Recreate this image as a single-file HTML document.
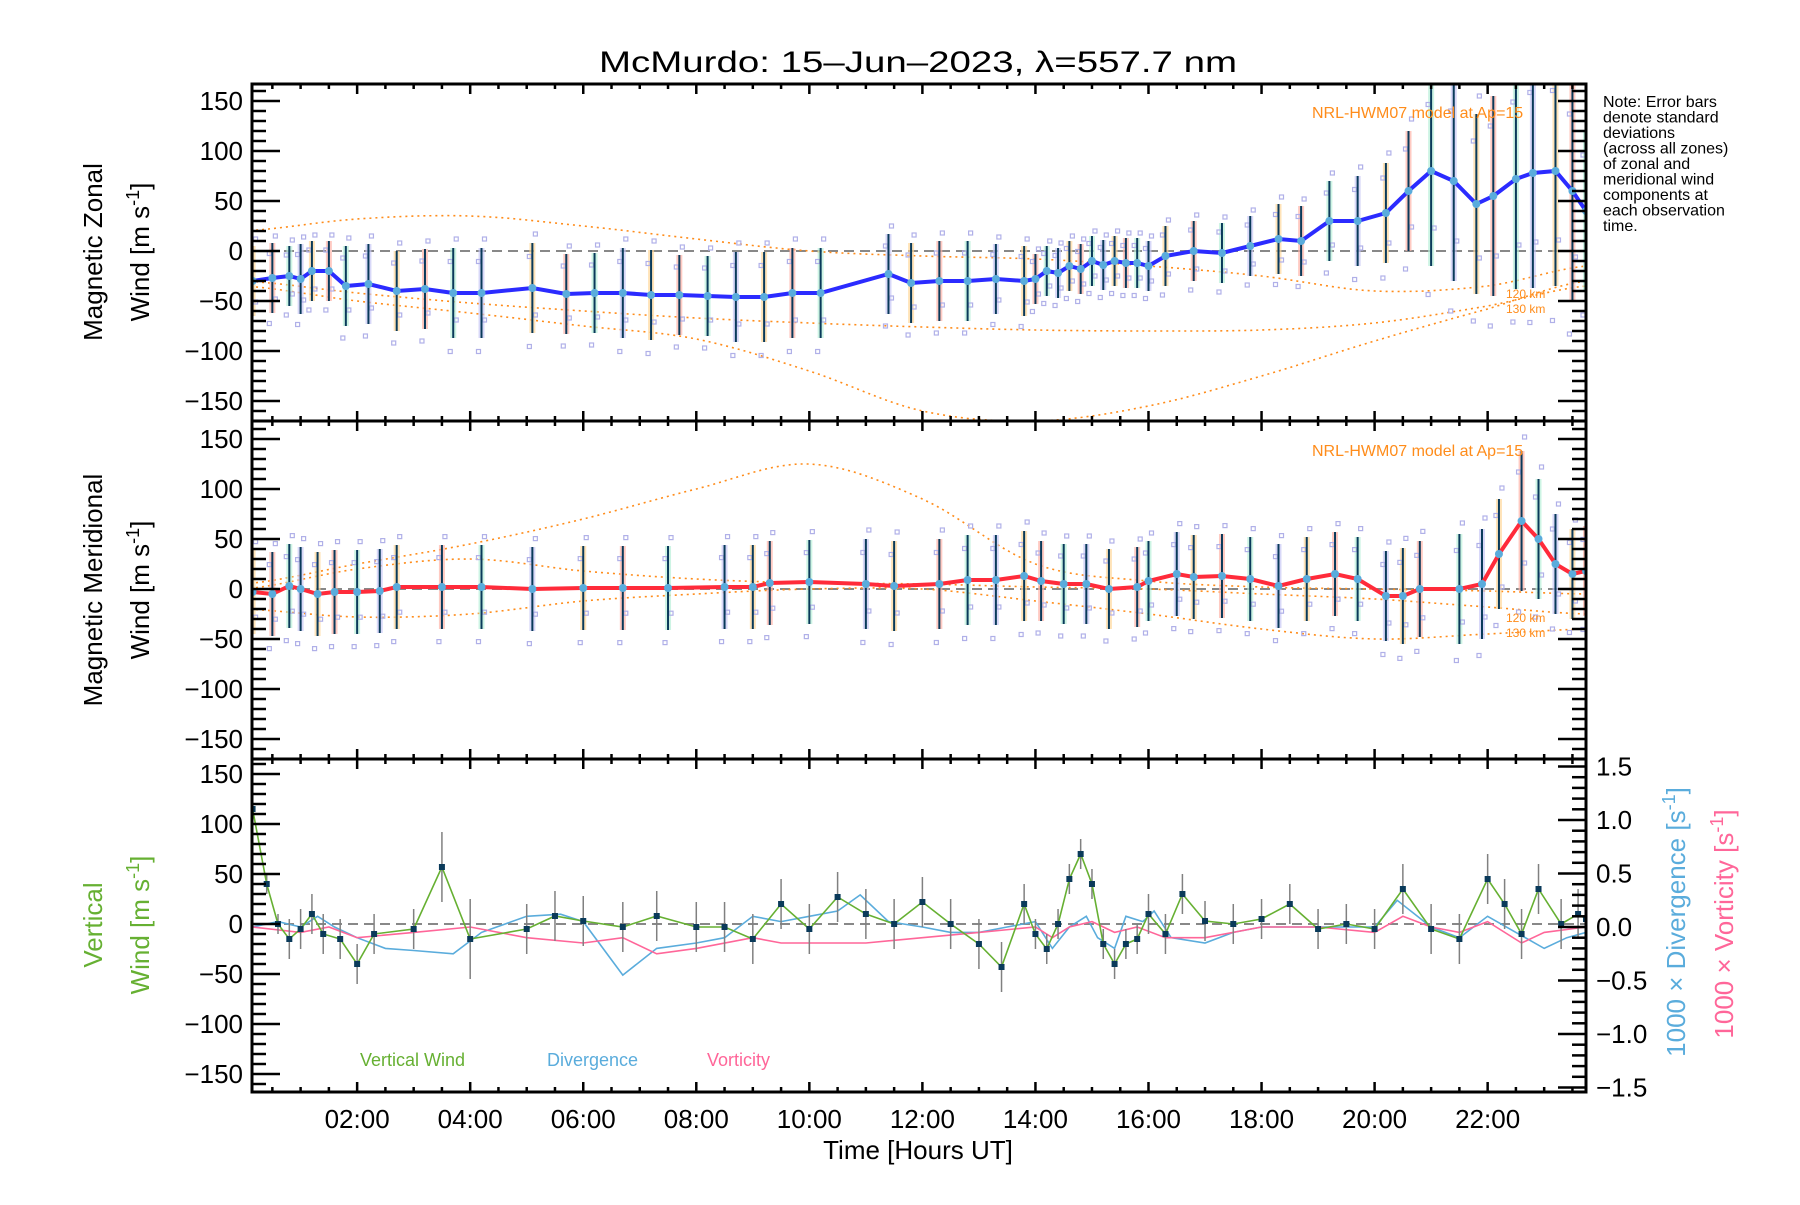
<!DOCTYPE html>
<html><head><meta charset="utf-8"><style>
html,body{margin:0;padding:0;background:#fff;}
svg text{font-family:"Liberation Sans","DejaVu Sans",sans-serif;}
</style></head><body>
<svg id="chart" width="1800" height="1200" viewBox="0 0 1800 1200" xmlns="http://www.w3.org/2000/svg">
<rect width="1800" height="1200" fill="#fff"/>
<text x="599" y="72" font-size="30" textLength="638" lengthAdjust="spacingAndGlyphs">McMurdo: 15–Jun–2023, λ=557.7 nm</text>
<g id="layer"></g>
<g font-size="16">
<text x="1603" y="107">Note: Error bars</text>
<text x="1603" y="122.5">denote standard</text>
<text x="1603" y="138">deviations</text>
<text x="1603" y="153.5">(across all zones)</text>
<text x="1603" y="169">of zonal and</text>
<text x="1603" y="184.5">meridional wind</text>
<text x="1603" y="200">components at</text>
<text x="1603" y="215.5">each observation</text>
<text x="1603" y="231">time.</text>
</g>
<text transform="translate(102,252) rotate(-90)" text-anchor="middle" font-size="26">Magnetic Zonal</text>
<text transform="translate(149,252) rotate(-90)" text-anchor="middle" font-size="26">Wind [m s<tspan dy="-10" font-size="18">-1</tspan><tspan dy="10">]</tspan></text>
<text transform="translate(102,590) rotate(-90)" text-anchor="middle" font-size="26">Magnetic Meridional</text>
<text transform="translate(149,590) rotate(-90)" text-anchor="middle" font-size="26">Wind [m s<tspan dy="-10" font-size="18">-1</tspan><tspan dy="10">]</tspan></text>
<text transform="translate(102,925) rotate(-90)" text-anchor="middle" font-size="26" fill="#66b032">Vertical</text>
<text transform="translate(149,925) rotate(-90)" text-anchor="middle" font-size="26" fill="#66b032">Wind [m s<tspan dy="-10" font-size="18">-1</tspan><tspan dy="10">]</tspan></text>
<text transform="translate(1685,922) rotate(-90)" text-anchor="middle" font-size="26" fill="#5aacdc">1000 × Divergence [s<tspan dy="-10" font-size="18">-1</tspan><tspan dy="10">]</tspan></text>
<text transform="translate(1733,924) rotate(-90)" text-anchor="middle" font-size="26" fill="#ff6699">1000 × Vorticity [s<tspan dy="-10" font-size="18">-1</tspan><tspan dy="10">]</tspan></text>
<text x="918" y="1159" text-anchor="middle" font-size="26">Time [Hours UT]</text>
<text x="360" y="1066" font-size="18" fill="#66b032">Vertical Wind</text>
<text x="547" y="1066" font-size="18" fill="#5aacdc">Divergence</text>
<text x="707" y="1066" font-size="18" fill="#ff6699">Vorticity</text>
<text x="1312" y="118" font-size="16" fill="#ff8c1a">NRL-HWM07 model at Ap=15</text>
<text x="1312" y="456" font-size="16" fill="#ff8c1a">NRL-HWM07 model at Ap=15</text>
<text x="1506" y="298" font-size="12" fill="#ff8c1a">120 km</text>
<text x="1506" y="313" font-size="12" fill="#ff8c1a">130 km</text>
<text x="1506" y="622" font-size="12" fill="#ff8c1a">120 km</text>
<text x="1506" y="637" font-size="12" fill="#ff8c1a">130 km</text>
</svg>
<script>
// ---- data ----
const zonalT = [0.15,0.5,0.8,1.0,1.2,1.5,1.8,2.2,2.7,3.2,3.7,4.2,5.1,5.7,6.2,6.7,7.2,7.7,8.2,8.7,9.2,9.7,10.2,11.4,11.8,12.3,12.8,13.3,13.8,14.0,14.2,14.4,14.6,14.8,15.0,15.2,15.4,15.6,15.8,16.0,16.3,16.8,17.3,17.8,18.3,18.7,19.2,19.7,20.2,20.6,21.0,21.4,21.8,22.1,22.5,22.8,23.2,23.5,23.74];
const zonalV = [-30,-27,-25,-28,-20,-20,-35,-33,-40,-38,-42,-42,-37,-43,-42,-42,-44,-44,-45,-46,-46,-42,-42,-23,-32,-30,-30,-28,-30,-28,-20,-22,-15,-18,-10,-14,-10,-12,-12,-15,-5,0,-2,5,12,10,30,30,38,60,80,70,47,55,72,78,80,60,40];
const zonalSig = [35,35,30,35,30,30,40,40,40,40,45,45,45,40,40,45,45,40,40,45,45,45,45,40,40,40,40,35,35,25,25,25,25,25,25,25,25,25,25,25,30,30,30,30,35,35,40,45,50,60,95,100,90,100,110,115,115,110,80];
const meridT = [0.15,0.5,0.8,1.0,1.3,1.6,2.0,2.4,2.7,3.5,4.2,5.1,6.0,6.7,7.5,8.5,9.0,9.3,10.0,11.0,11.5,12.3,12.8,13.3,13.8,14.1,14.5,14.9,15.3,15.8,16.0,16.5,16.8,17.3,17.8,18.3,18.8,19.3,19.7,20.2,20.5,20.8,21.5,21.9,22.2,22.6,22.9,23.2,23.5,23.74];
const meridV = [-3,-5,3,0,-5,-3,-3,-2,2,2,2,0,1,1,1,2,2,6,7,5,3,5,9,9,13,8,5,5,0,2,8,15,12,13,10,3,10,15,10,-7,-7,0,0,5,35,68,50,25,15,18];
const meridSig = [42,42,42,42,42,42,42,42,42,42,42,42,42,42,42,42,42,42,42,45,45,45,45,45,45,40,40,40,40,40,40,42,42,42,42,42,42,42,42,45,48,48,55,55,55,70,60,50,45,45];
const vertT = [0.15,0.4,0.6,0.8,1.0,1.2,1.4,1.7,2.0,2.3,3.0,3.5,4.0,5.0,5.5,6.0,6.7,7.3,8.0,8.5,9.0,9.5,10.0,10.5,11.0,11.5,12.0,12.5,13.0,13.4,13.8,14.0,14.2,14.4,14.6,14.8,15.0,15.2,15.4,15.6,15.8,16.0,16.3,16.6,17.0,17.5,18.0,18.5,19.0,19.5,20.0,20.5,21.0,21.5,22.0,22.3,22.6,22.9,23.3,23.6,23.74];
const vertV = [115,40,0,-15,-5,10,-10,-15,-40,-10,-5,57,-15,-5,8,3,-3,8,-3,-3,-15,20,-5,27,10,0,22,0,-20,-43,20,-10,-25,0,45,70,40,-20,-40,-20,-15,10,-10,30,3,0,5,20,-5,0,-5,35,-5,-15,45,20,-10,35,0,10,5];
const vertSig = [5,10,10,20,20,20,20,20,20,20,20,35,40,25,25,25,25,25,25,25,25,25,25,25,25,25,25,25,25,25,20,15,15,15,15,15,15,15,15,15,15,20,20,20,20,20,20,20,20,20,20,25,25,25,25,25,25,25,25,25,5];
const divT = [0.15,0.6,1.0,1.3,1.6,2.0,2.5,3.0,3.7,4.2,5.0,5.6,6.0,6.7,7.3,8.0,8.5,9.0,9.5,10.0,10.5,10.9,11.4,12.0,12.5,13.0,13.5,14.0,14.3,14.6,14.9,15.1,15.4,15.6,15.9,16.1,16.4,17.0,17.5,18.0,19.0,20.0,20.4,21.0,21.5,22.0,22.5,23.0,23.4,23.74];
const divV = [0,0.05,0.0,0.1,0.0,-0.1,-0.2,-0.22,-0.25,-0.05,0.1,0.12,0.05,-0.45,-0.2,-0.15,-0.1,0.1,0.05,0.1,0.15,0.3,0.05,0.0,-0.05,-0.05,0.0,0.05,-0.2,0.0,0.1,-0.1,-0.2,0.1,0.05,0.15,-0.1,-0.15,-0.05,0.0,0.0,0.0,0.25,0.0,-0.1,0.1,-0.05,-0.2,-0.1,-0.05];
const vortT = [0.15,1.0,1.5,2.0,3.0,4.0,5.0,6.0,6.7,7.3,8.0,9.0,9.5,10.0,11.0,12.0,13.0,14.0,14.3,14.6,15.0,15.4,15.8,16.3,17.0,18.0,19.0,20.0,20.5,21.0,21.5,22.0,22.6,23.0,23.74];
const vortV = [0,-0.05,0.0,-0.1,-0.05,0.0,-0.1,-0.15,-0.1,-0.25,-0.2,-0.1,-0.15,-0.15,-0.15,-0.1,-0.05,0.0,-0.1,0.0,0.05,-0.05,0.0,-0.1,-0.1,0.0,0.0,-0.05,0.1,0.0,-0.05,0.05,-0.15,-0.05,0.0];
const modelT = [0,2,4,6,8,10,12,14,16,18,20,22,23.74];
const zonalModelA = [20,32,35,25,12,0,-5,-8,-15,-25,-40,-35,-15];
const zonalModelB = [-30,-42,-52,-60,-67,-72,-76,-79,-80,-79,-72,-55,-35];
const zonalModelC = [-35,-50,-62,-75,-88,-120,-160,-170,-155,-125,-90,-58,-30];
const meridModelA = [5,25,45,70,100,125,90,25,8,2,0,-2,-5];
const meridModelB = [0,20,30,18,10,6,5,2,0,-5,-10,-18,-25];
const meridModelC = [-20,-28,-25,-12,-5,0,0,-12,-25,-40,-50,-45,-40];
const xTickLabels = ["02:00","04:00","06:00","08:00","10:00","12:00","14:00","16:00","18:00","20:00","22:00"];
const xTickHours = [2,4,6,8,10,12,14,16,18,20,22];
const yTickVals = [150,100,50,0,-50,-100,-150];
const rTickVals = [1.5,1.0,0.5,0.0,-0.5,-1.0,-1.5];

// ---- layout ----
const X0=252, X1=1586, T0=0.14, T1=23.74;
const panels=[{top:84,bot:421,zero:251,k:1.0},{top:421,bot:759,zero:589,k:1.0},{top:759,bot:1092,zero:924,k:1.0}];
const RK=107, RZERO=927;
const NS="http://www.w3.org/2000/svg";
const layer=document.getElementById('layer');
function xs(t){return X0+(t-T0)/(T1-T0)*(X1-X0);}
function ys(p,v){return panels[p].zero - v*panels[p].k;}
function yr(v){return RZERO - v*RK;}
function mk(tag,attrs,parent){const e=document.createElementNS(NS,tag);for(const k in attrs)e.setAttribute(k,attrs[k]);(parent||layer).appendChild(e);return e;}
function clipFor(p){const id='clip'+p;const d=mk('clipPath',{id:id});mk('rect',{x:X0,y:panels[p].top,width:X1-X0,height:panels[p].bot-panels[p].top},d);return 'url(#'+id+')';}
function smoothPts(ts,vs,f){let pts=[];for(let i=0;i<ts.length-1;i++){for(let s=0;s<10;s++){const u=s/10;const t=ts[i]+(ts[i+1]-ts[i])*u;const p0=vs[Math.max(0,i-1)],p1=vs[i],p2=vs[i+1],p3=vs[Math.min(vs.length-1,i+2)];const v=0.5*((2*p1)+(-p0+p2)*u+(2*p0-5*p1+4*p2-p3)*u*u+(-p0+3*p1-3*p2+p3)*u*u*u);pts.push(xs(t).toFixed(1)+','+f(v).toFixed(1));}}pts.push(xs(ts[ts.length-1]).toFixed(1)+','+f(vs[vs.length-1]).toFixed(1));return pts.join(' ');}
function line(ts,vs,f){return ts.map((t,i)=>xs(t).toFixed(1)+','+f(vs[i]).toFixed(1)).join(' ');}

[0,1,2].forEach(p=>{
  const g=mk('g',{'clip-path':clipFor(p)});
  
  
  const zl=mk('line',{x1:X0,x2:X1,y1:panels[p].zero,y2:panels[p].zero,stroke:'#888','stroke-width':2,'stroke-dasharray':'10,6'},g);
  
  
  panels[p].g=g;
});

[[0,zonalModelA],[0,zonalModelB],[0,zonalModelC],[1,meridModelA],[1,meridModelB],[1,meridModelC]].forEach(([p,arr],i)=>{
  const pl=mk('polyline',{points:smoothPts(modelT,arr,v=>ys(p,v)),fill:'none',stroke:'#ff8c1a','stroke-width':1.6,'stroke-dasharray':'2,4'},panels[p].g);
  
  
});

function horiz(p,ts,vs,sig,color){
  const cols=['#ffd79a','#ffb3a8','#b8f0d8','#c8c8f5'];
  ts.forEach((t,i)=>{
    const x=xs(t);
    const b=mk('rect',{x:x-3,y:ys(p,vs[i]+sig[i]),width:6,height:2*sig[i]*panels[p].k,fill:cols[i%4],opacity:0.7},panels[p].g);
    
    
    [-1.3,-0.6,0.7,1.2].forEach((f,j)=>{
      const s=mk('rect',{x:x-2+(j%2?3:-3),y:ys(p,vs[i]+f*sig[i])-2,width:4,height:4,fill:'none',stroke:'#b0b0e8','stroke-width':1.2},panels[p].g);
      
      
    });
    const e=mk('line',{x1:x,x2:x,y1:ys(p,vs[i]+sig[i]),y2:ys(p,vs[i]-sig[i]),stroke:'#0a3a5a','stroke-width':2},panels[p].g);
    
    
  });
  const pl=mk('polyline',{points:line(ts,vs,v=>ys(p,v)),fill:'none',stroke:color,'stroke-width':4},panels[p].g);
  
  
  ts.forEach((t,i)=>{
    const c=mk('circle',{cx:xs(t),cy:ys(p,vs[i]),r:4,fill:'#5aacdc'},panels[p].g);
    
    
  });
}
horiz(0,zonalT,zonalV,zonalSig,'#2b2bff');
horiz(1,meridT,meridV,meridSig,'#ff2b3a');

const g2=panels[2].g;
const dl=mk('polyline',{points:line(divT,divV,yr),fill:'none',stroke:'#5aacdc','stroke-width':1.6},g2);


const vl=mk('polyline',{points:line(vortT,vortV,yr),fill:'none',stroke:'#ff6699','stroke-width':1.6},g2);


vertT.forEach((t,i)=>{
  const e=mk('line',{x1:xs(t),x2:xs(t),y1:ys(2,vertV[i]+vertSig[i]),y2:ys(2,vertV[i]-vertSig[i]),stroke:'#808080','stroke-width':1.5},g2);
  
  
});
const wl=mk('polyline',{points:line(vertT,vertV,v=>ys(2,v)),fill:'none',stroke:'#66b032','stroke-width':1.6},g2);


vertT.forEach((t,i)=>{
  const r=mk('rect',{x:xs(t)-3,y:ys(2,vertV[i])-3,width:6,height:6,fill:'#0a3a5a'},g2);
  
  
});

panels.forEach((P,p)=>{
  const fr=mk('rect',{x:X0,y:P.top,width:X1-X0,height:P.bot-P.top,fill:'none',stroke:'#000','stroke-width':3});
  
  
  for(let v=-160;v<=160;v+=10){
    const y=ys(p,v); if(y<P.top+1||y>P.bot-1) continue;
    const L=(v%50==0)?28:14;
    mk('line',{x1:X0,x2:X0+L,y1:y,y2:y,stroke:'#000','stroke-width':2.5});
    if(p<2) mk('line',{x1:X1,x2:X1-L,y1:y,y2:y,stroke:'#000','stroke-width':2.5});
  }
  yTickVals.forEach(v=>{
    const t=mk('text',{x:243,y:ys(p,v)+9,'text-anchor':'end','font-size':26});
    t.textContent=(v<0?'−':'')+Math.abs(v);
    
    
  });
  for(let h=0.5;h<T1;h+=0.5){
    if(h<T0) continue;
    const x=xs(h); const L=(h%2==0)?10:5;
    mk('line',{x1:x,x2:x,y1:P.bot,y2:P.bot-L,stroke:'#000','stroke-width':2.5});
    mk('line',{x1:x,x2:x,y1:P.top,y2:P.top+L,stroke:'#000','stroke-width':2.5});
  }
});
for(let v=-1.5;v<=1.51;v+=0.1){
  const y=yr(v); if(y<panels[2].top+1||y>panels[2].bot-1) continue;
  const L=(Math.abs(Math.round(v*10))%5==0)?28:14;
  mk('line',{x1:X1,x2:X1-L,y1:y,y2:y,stroke:'#000','stroke-width':2.5});
}
rTickVals.forEach(v=>{
  const t=mk('text',{x:1596,y:yr(v)+9,'font-size':26});
  t.textContent=(v<0?'−':'')+Math.abs(v).toFixed(1);
  
  
});
xTickHours.forEach((h,i)=>{
  const t=mk('text',{x:xs(h),y:1128,'text-anchor':'middle','font-size':26});
  t.textContent=xTickLabels[i];
  
  
});
</script>
</body></html>
